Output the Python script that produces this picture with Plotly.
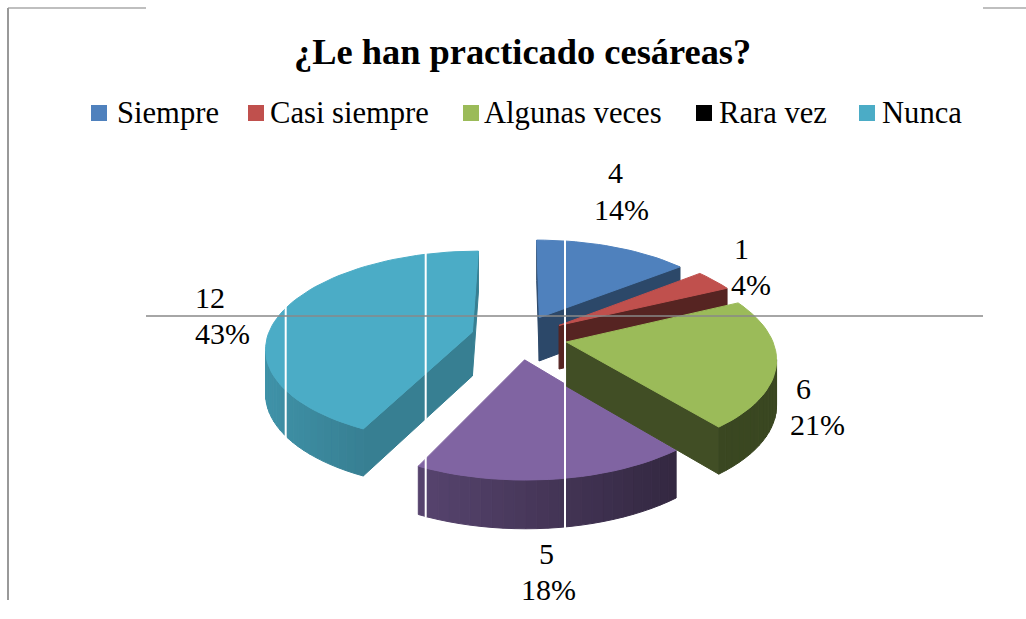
import math
import plotly.graph_objects as go

# ---- data ----
categories = ["Siempre", "Casi siempre", "Algunas veces", "Rara vez", "Nunca"]
values = [4, 1, 6, 5, 12]
title_text = "¿Le han practicado cesáreas?"
top_colors = ["#4f81bd", "#c0504d", "#9bbb59", "#8064a2", "#4bacc6"]
legend_colors = ["#4f81bd", "#c0504d", "#9bbb59", "#000000", "#4bacc6"]
cut_shade = [0.56, 0.45, 0.42, 0.50, 0.74]
draw_order = [0, 1, 4, 3, 2]

# ---- layout of the drawing, in page pixels ----
W, H = 1026, 619
CX, CY, A, B, K, PULL, DEPTH = 519, 337, 205, 94.5, 0.15, 0.235, 44
legend_swatch_x = [99, 256, 471, 704, 867]
legend_text_x = [115, 268, 482, 717, 880]
value_label_pos = [(615, 172), (741, 248), (803, 388), (546, 553), (210, 297)]
pct_label_pos = [(621, 209), (751, 284), (817, 424), (548, 589), (222, 333)]
white_lines = [(285.7, 305, 440), (425.7, 250, 517), (565, 238, 532)]


def project(u, v):
    s = 1 / (1 + K * v)
    return CX + A * u * s, CY - B * v * s, DEPTH * s ** 0.5


def rim_point(theta, pull_u, pull_v):
    return project(pull_u + math.sin(theta), pull_v + math.cos(theta))


def hex_shade(color, f):
    r, g, b = (int(color[i:i + 2], 16) for i in (1, 3, 5))
    return f"rgb({int(r * f)},{int(g * f)},{int(b * f)})"


def polygon(xs, ys, color):
    return go.Scatter(x=list(xs) + [xs[0]], y=list(ys) + [ys[0]], mode="lines",
                      fill="toself", fillcolor=color,
                      line=dict(color=color, width=1),
                      hoverinfo="skip", showlegend=False)


def wall(p, q, color):
    return polygon([p[0], q[0], q[0], p[0]],
                   [p[1], q[1], q[1] + q[2], p[1] + p[2]], color)


def arc_shade(x):
    return max(0.38, min(0.88, 0.85 - (x - 265) * 0.45 / 413))


total = sum(values)
fig = go.Figure()
starts = []
acc = 0
for val in values:
    starts.append(acc)
    acc += val

for i in draw_order:
    t0 = starts[i] / total * 2 * math.pi
    t1 = (starts[i] + values[i]) / total * 2 * math.pi
    mid = (t0 + t1) / 2
    pu, pv = PULL * math.sin(mid), PULL * math.cos(mid)
    apex = project(pu, pv)
    n = max(4, int((t1 - t0) / math.radians(2.5)))
    rim = [rim_point(t0 + (t1 - t0) * j / n, pu, pv) for j in range(n + 1)]

    if rim[0][0] < apex[0]:
        fig.add_trace(wall(apex, rim[0], hex_shade(top_colors[i], cut_shade[i])))
    if apex[0] < rim[-1][0]:
        fig.add_trace(wall(rim[-1], apex, hex_shade(top_colors[i], cut_shade[i])))
    for a, b in zip(rim[:-1], rim[1:]):
        if b[0] < a[0]:
            xm = (a[0] + b[0]) / 2
            fig.add_trace(wall(a, b, hex_shade(top_colors[i], arc_shade(xm))))
    fig.add_trace(polygon([apex[0]] + [p[0] for p in rim],
                          [apex[1]] + [p[1] for p in rim], top_colors[i]))

fig.add_trace(go.Scatter(x=legend_swatch_x, y=[113] * 5, mode="markers",
                         marker=dict(symbol="square", size=16, color=legend_colors),
                         hoverinfo="skip", showlegend=False))

SERIF = "Liberation Serif, Times New Roman, serif"
ann = [dict(x=522, y=51.5, text=f"<b>{title_text}</b>", showarrow=False,
            font=dict(family=SERIF, size=36.4, color="black"))]
for name, x in zip(categories, legend_text_x):
    ann.append(dict(x=x, y=112.5, text=name, showarrow=False, xanchor="left",
                    font=dict(family=SERIF, size=30.6, color="black")))
for val, vp, pp in zip(values, value_label_pos, pct_label_pos):
    ann.append(dict(x=vp[0], y=vp[1], text=str(val), showarrow=False,
                    font=dict(family=SERIF, size=30, color="black")))
    ann.append(dict(x=pp[0], y=pp[1], text=f"{round(val / total * 100)}%", showarrow=False,
                    font=dict(family=SERIF, size=30, color="black")))

shapes = []
for x, y0, y1 in white_lines:
    shapes.append(dict(type="line", x0=x, x1=x, y0=y0, y1=y1,
                       line=dict(color="white", width=2)))
shapes += [
    dict(type="line", x0=146, x1=983, y0=316, y1=316, line=dict(color="#888888", width=1.5)),
    dict(type="line", x0=8, x1=146, y0=8, y1=8, line=dict(color="#aaaaaa", width=1.5)),
    dict(type="line", x0=983, x1=1026, y0=8, y1=8, line=dict(color="#aaaaaa", width=1.5)),
    dict(type="line", x0=8, x1=8, y0=8, y1=600, line=dict(color="#999999", width=2)),
]

fig.update_layout(
    width=W, height=H, margin=dict(l=0, r=0, t=0, b=0),
    paper_bgcolor="white", plot_bgcolor="white", showlegend=False,
    xaxis=dict(range=[0, W], visible=False, fixedrange=True),
    yaxis=dict(range=[H, 0], visible=False, fixedrange=True),
    annotations=ann, shapes=shapes,
)
fig.write_html("out.html", config={"displayModeBar": False},
               post_script="document.body.style.margin='0';document.documentElement.style.overflow='hidden';")
